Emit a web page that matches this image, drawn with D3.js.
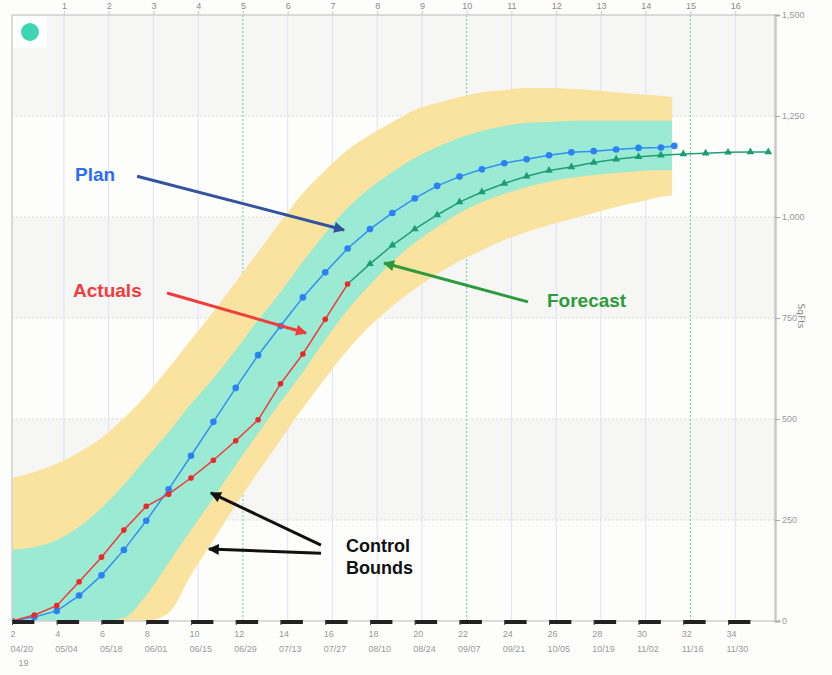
<!DOCTYPE html>
<html>
<head>
<meta charset="utf-8">
<script src="https://cdn.jsdelivr.net/npm/d3@7"></script>
<style>
  body { margin: 0; background: #fdfdfc; }
  svg { display: block; }
</style>
</head>
<body>
<script>
const width = 832, height = 675;
const margin = {top: 15, right: 57, bottom: 54, left: 12};

// control bounds (weeks)
const bandWeeks = [2,3,4,5,6,7,8,9,10,11,12,13,14,15,16,17,18,19,20,21,22,23,24,25,26,27,28,29,30,31,31.5];
const outerHigh = [354,369,389,418,453,502,559,626,696,765,839,913,988,1059,1116,1166,1203,1235,1265,1282,1297,1309,1314,1319,1319,1317,1314,1309,1304,1300,1297];
const innerHigh = [176,183,200,233,280,337,403,468,537,601,671,745,814,889,960,1022,1072,1111,1146,1173,1196,1213,1225,1233,1235,1238,1238,1238,1238,1238,1238];
const innerLow  = [0,0,0,0,0,8,64,144,225,304,386,465,542,616,696,770,832,889,936,975,1010,1037,1057,1074,1087,1097,1104,1109,1114,1116,1116];
const outerLow  = [0,0,0,0,0,0,0,20,114,200,287,369,448,527,601,671,730,780,822,859,891,918,943,963,980,995,1010,1025,1037,1050,1054];

const planWeeks = [2,3,4,5,6,7,8,9,10,11,12,13,14,15,16,17,18,19,20,21,22,23,24,25,26,27,28,29,30,31,31.6];
const plan = [0,10,25,63,113,176,248,326,409,493,577,658,730,801,863,922,970,1010,1046,1077,1100,1118,1133,1143,1153,1160,1163,1167,1171,1172,1176];

const actualWeeks = [2,3,4,5,6,7,8,9,10,11,12,13,14,15,16,17];
const actuals = [0,15,38,97,158,225,284,314,354,398,446,498,587,661,747,834];

const forecastWeeks = [17,18,19,20,21,22,23,24,25,26,27,28,29,30,31,32,33,34,35,35.8];
const forecast = [834,884,930,970,1005,1037,1062,1083,1101,1115,1124,1135,1143,1149,1153,1156,1158,1160,1161,1161];

// axes
const weekTicks = [2,4,6,8,10,12,14,16,18,20,22,24,26,28,30,32,34];
const dateLabels = ["04/20","05/04","05/18","06/01","06/15","06/29","07/13","07/27","08/10","08/24","09/07","09/21","10/05","10/19","11/02","11/16","11/30"];
const periodTicks = [1,2,3,4,5,6,7,8,9,10,11,12,13,14,15,16];
const valueTicks = [0,250,500,750,1000,1250,1500];

// annotations, in week / value units
const notes = [
  {text: "Plan", w: 4.82, v: 1089, color: "#2d6df2", size: 19},
  {text: "Actuals", w: 4.73, v: 802, color: "#f23b3b", size: 19},
  {text: "Forecast", w: 25.91, v: 777, color: "#2b9b3c", size: 19},
  {text: "Control", w: 16.93, v: 171, color: "#111", size: 18},
  {text: "Bounds", w: 16.93, v: 116, color: "#111", size: 18}
];
const arrows = [
  {w1: 7.59, v1: 1101, w2: 16.84, v2: 968, color: "#32549e"},
  {w1: 8.93, v1: 812, w2: 15.14, v2: 713, color: "#f23b3b"},
  {w1: 25.06, v1: 790, w2: 18.63, v2: 886, color: "#2b9b3c"},
  {w1: 15.81, v1: 188, w2: 10.89, v2: 317, color: "#111"},
  {w1: 15.81, v1: 168, w2: 10.8, v2: 178, color: "#111"}
];

const x = d3.scaleLinear()
    .domain([2, 36.1])
    .range([margin.left, width - margin.right]);

const y = d3.scaleLinear()
    .domain([0, 1500])
    .range([height - margin.bottom, margin.top]);

const xTop = d3.scaleLinear()
    .domain([1, 16])
    .range([x(4.32), x(34.32)]);

const svg = d3.select("body").append("svg")
    .attr("width", width)
    .attr("height", height)
    .attr("font-family", "DejaVu Sans, sans-serif");

const x0 = x.range()[0], x1 = x.range()[1];

// alternating bands
svg.append("g")
  .selectAll("rect")
  .data(d3.pairs(valueTicks))
  .join("rect")
    .attr("x", x0)
    .attr("width", x1 - x0)
    .attr("y", ([a, b]) => y(b))
    .attr("height", ([a, b]) => y(a) - y(b))
    .attr("fill", (d, i) => i % 2 ? "#f6f6f4" : "#fdfdfc");

svg.append("rect")
    .attr("x", x0 + 1).attr("y", y(1500) + 1)
    .attr("width", 34).attr("height", 32)
    .attr("fill", "#fefefe");

// horizontal grid
svg.append("g")
  .selectAll("line")
  .data(valueTicks.slice(1, -1))
  .join("line")
    .attr("x1", x0).attr("x2", x1)
    .attr("y1", d => y(d)).attr("y2", d => y(d))
    .attr("stroke", "#dcdcdc")
    .attr("stroke-dasharray", "2,2");

// vertical grid from the period ticks
svg.append("g")
  .selectAll("line")
  .data(periodTicks)
  .join("line")
    .attr("x1", d => xTop(d)).attr("x2", d => xTop(d))
    .attr("y1", y(1500)).attr("y2", y(0))
    .attr("stroke", d => d % 5 === 0 ? "#6cc7b5" : "#dfe1f6")
    .attr("stroke-width", 1)
    .attr("stroke-dasharray", d => d % 5 === 0 ? "2,2" : null);

const clip = svg.append("clipPath").attr("id", "plot")
  .append("rect")
    .attr("x", x0).attr("y", y(1500))
    .attr("width", x1 - x0).attr("height", y(0) - y(1500) + 4);

const plot = svg.append("g").attr("clip-path", "url(#plot)");

const bandData = bandWeeks.map((w, i) => ({w, oh: outerHigh[i], ih: innerHigh[i], il: innerLow[i], ol: outerLow[i]}));

plot.append("path")
    .datum(bandData)
    .attr("fill", "#fae29f")
    .attr("d", d3.area().curve(d3.curveMonotoneX)
      .x(d => x(d.w)).y0(d => y(d.ol)).y1(d => y(d.oh)));

plot.append("path")
    .datum(bandData)
    .attr("fill", "#9beAd3")
    .attr("d", d3.area().curve(d3.curveMonotoneX)
      .x(d => x(d.w)).y0(d => y(d.il)).y1(d => y(d.ih)));

const line = d3.line().x(d => x(d[0])).y(d => y(d[1]));

const planData = d3.zip(planWeeks, plan);
const actualData = d3.zip(actualWeeks, actuals);
const forecastData = d3.zip(forecastWeeks, forecast);

plot.append("path")
    .datum(forecastData)
    .attr("fill", "none")
    .attr("stroke", "#1f9f78")
    .attr("stroke-width", 1.5)
    .attr("d", line);

plot.append("g")
  .selectAll("path")
  .data(forecastData.slice(1))
  .join("path")
    .attr("transform", d => `translate(${x(d[0])},${y(d[1])})`)
    .attr("d", d3.symbol(d3.symbolTriangle, 26))
    .attr("fill", "#1c9c72");

plot.append("path")
    .datum(planData)
    .attr("fill", "none")
    .attr("stroke", "#3190f7")
    .attr("stroke-width", 1.5)
    .attr("d", line);

plot.append("g")
  .selectAll("circle")
  .data(planData)
  .join("circle")
    .attr("cx", d => x(d[0]))
    .attr("cy", d => y(d[1]))
    .attr("r", 3.3)
    .attr("fill", "#2b82f6");

plot.append("path")
    .datum(actualData)
    .attr("fill", "none")
    .attr("stroke", "#f03a36")
    .attr("stroke-width", 1.5)
    .attr("d", line);

plot.append("g")
  .selectAll("circle")
  .data(actualData)
  .join("circle")
    .attr("cx", d => x(d[0]))
    .attr("cy", d => y(d[1]))
    .attr("r", 2.8)
    .attr("fill", "#e82a2a");

// frame
svg.append("path")
    .attr("d", `M${x0},${y(0)}V${y(1500)}H${x1}`)
    .attr("fill", "none")
    .attr("stroke", "#cfcfcf")
    .attr("stroke-width", 1.5);

// top axis
const gTop = svg.append("g")
    .attr("transform", `translate(0,${y(1500)})`)
    .call(d3.axisTop(xTop).tickValues(periodTicks).tickSize(4).tickSizeOuter(0))
    .call(g => g.select(".domain").remove());
gTop.selectAll(".tick line").attr("stroke", "#c8c8d8");
gTop.selectAll(".tick text").attr("fill", "#8a8a8a").attr("font-size", 9).attr("dy", "0.15em");

// bottom axis
svg.append("line")
    .attr("x1", x0).attr("x2", x1 + 6)
    .attr("y1", y(0)).attr("y2", y(0))
    .attr("stroke", "#cfcfcf").attr("stroke-width", 1.5);

svg.append("g")
  .selectAll("rect")
  .data(weekTicks)
  .join("rect")
    .attr("x", d => x(d))
    .attr("width", d => x(d + 1) - x(d))
    .attr("y", y(0) - 1)
    .attr("height", 4)
    .attr("fill", "#222");

const gBottom = svg.append("g")
    .attr("transform", `translate(0,${y(0)})`)
    .call(d3.axisBottom(x).tickValues(weekTicks).tickSize(4).tickSizeOuter(0))
    .call(g => g.select(".domain").remove());
gBottom.selectAll(".tick line").attr("stroke", "#444");
gBottom.selectAll(".tick text")
    .attr("fill", "#999")
    .attr("font-size", 9)
    .attr("text-anchor", "start")
    .attr("x", -2)
    .attr("y", 10)
    .each(function(d, i) {
      const t = d3.select(this);
      t.append("tspan").attr("x", -2).attr("dy", "1.6em").text(dateLabels[i]);
      if (i === 0) t.append("tspan").attr("x", 6).attr("dy", "1.55em").text("19");
    });

// right axis
const gRight = svg.append("g")
    .attr("transform", `translate(${x1},0)`)
    .call(d3.axisRight(y).tickValues(valueTicks).tickSize(5).tickFormat(d3.format(",")));
gRight.select(".domain").attr("stroke", "#c8c8c8").attr("stroke-width", 2.5);
gRight.selectAll(".tick line").attr("stroke", "#aaa");
gRight.selectAll(".tick text").attr("fill", "#999").attr("font-size", 9).attr("x", 7);

svg.append("text")
    .attr("transform", `translate(${x1 + 23},${y(755)}) rotate(90)`)
    .attr("text-anchor", "middle")
    .attr("fill", "#888")
    .attr("font-size", 9)
    .text("SqFts");

// legend dot
svg.append("circle")
    .attr("cx", x0 + 18).attr("cy", y(1500) + 17)
    .attr("r", 9)
    .attr("fill", "#3ed6b2");

// annotations
const defs = svg.append("defs");
arrows.forEach((a, i) => {
  defs.append("marker")
      .attr("id", "head" + i)
      .attr("viewBox", "0 0 10 10")
      .attr("refX", 9).attr("refY", 5)
      .attr("markerUnits", "userSpaceOnUse")
      .attr("markerWidth", 13).attr("markerHeight", 11)
      .attr("orient", "auto")
    .append("path")
      .attr("d", "M0,0L10,5L0,10z")
      .attr("fill", a.color);
});

svg.append("g")
  .selectAll("line")
  .data(arrows)
  .join("line")
    .attr("x1", d => x(d.w1)).attr("y1", d => y(d.v1))
    .attr("x2", d => x(d.w2)).attr("y2", d => y(d.v2))
    .attr("stroke", d => d.color)
    .attr("stroke-width", 3)
    .attr("marker-end", (d, i) => `url(#head${i})`);

svg.append("g")
  .selectAll("text")
  .data(notes)
  .join("text")
    .attr("x", d => x(d.w))
    .attr("y", d => y(d.v))
    .attr("fill", d => d.color)
    .attr("font-family", "Liberation Sans, Arial, sans-serif")
    .attr("font-weight", "bold")
    .attr("font-size", d => d.size)
    .text(d => d.text);
</script>
</body>
</html>
